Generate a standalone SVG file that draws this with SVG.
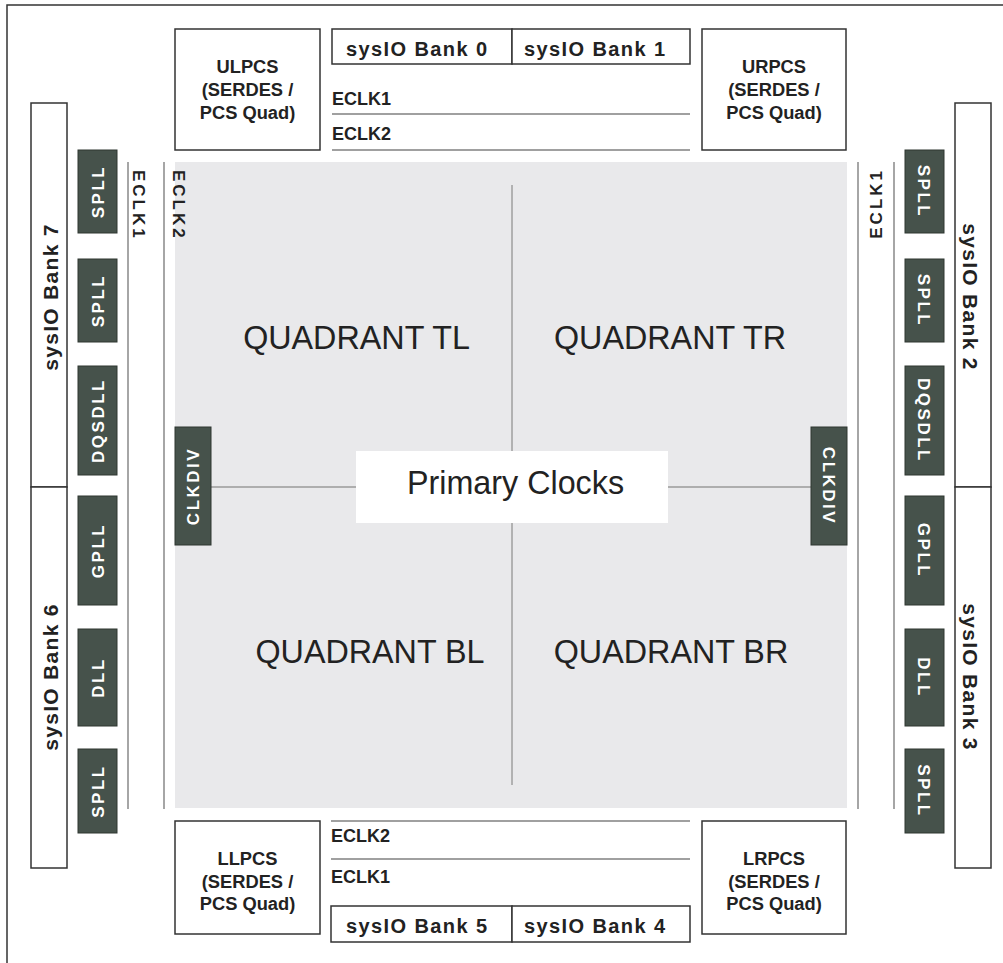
<svg xmlns="http://www.w3.org/2000/svg" width="1003" height="963" viewBox="0 0 1003 963">
<style>
.box{fill:#fff;stroke:#333;stroke-width:1.5}
.dark{fill:#46524b;stroke:#2e3631;stroke-width:1}
.b{font-family:"Liberation Sans",Arial,sans-serif;font-weight:bold;fill:#222}
.pcs{font-size:18.3px;text-anchor:middle}
.bank{font-size:20px;letter-spacing:1.4px}
.sbank{font-size:21px;letter-spacing:1.3px;text-anchor:middle}
.blk{font-size:17px;letter-spacing:2.5px;text-anchor:middle;fill:#fff}
.eclk{font-size:18px}
.veclk{font-size:17px;letter-spacing:3px}
.quad{font-family:"Liberation Sans",Arial,sans-serif;font-size:32.3px;fill:#222;text-anchor:middle}
.wire{stroke:#808080;stroke-width:1.4;fill:none}
.cross{stroke:#9a9a9a;stroke-width:1.4;fill:none}
.frame{stroke:#333;stroke-width:1.5;fill:none}
</style>
<path class="frame" d="M7,963 V5 H1003"/>
<g id="core">
<rect x="175" y="162" width="672" height="646" fill="#e9e9eb"/>
</g>
<g id="connectors">
<line class="wire" x1="332" y1="114" x2="690" y2="114"/>
<line class="wire" x1="332" y1="150" x2="690" y2="150"/>
<line class="wire" x1="331" y1="821" x2="690" y2="821"/>
<line class="wire" x1="331" y1="859" x2="690" y2="859"/>
<line class="wire" x1="128" y1="162" x2="128" y2="809"/>
<line class="wire" x1="164" y1="162" x2="164" y2="809"/>
<line class="wire" x1="858" y1="162" x2="858" y2="809"/>
<line class="wire" x1="894" y1="162" x2="894" y2="809"/>
<line class="cross" x1="512" y1="185" x2="512" y2="451"/>
<line class="cross" x1="512" y1="523" x2="512" y2="785"/>
<line class="cross" x1="211" y1="487" x2="356" y2="487"/>
<line class="cross" x1="668" y1="487" x2="811" y2="487"/>
</g>
<g id="eclk-labels">
<text class="b eclk" x="332" y="105">ECLK1</text>
<text class="b eclk" x="332" y="140">ECLK2</text>
<text class="b eclk" x="331" y="842">ECLK2</text>
<text class="b eclk" x="331" y="883">ECLK1</text>
<text class="b veclk" transform="translate(133,170) rotate(90)">ECLK1</text>
<text class="b veclk" transform="translate(173,170) rotate(90)">ECLK2</text>
<text class="b veclk" text-anchor="end" transform="translate(882,168) rotate(-90)">ECLK1</text>
</g>
<g id="ulpcs">
<rect class="box" x="175" y="29" width="145" height="121"/>
<text class="b pcs" x="247.5" y="73">ULPCS</text>
<text class="b pcs" x="247.5" y="96">(SERDES /</text>
<text class="b pcs" x="247.5" y="118.5">PCS Quad)</text>
</g>
<g id="urpcs">
<rect class="box" x="702" y="29" width="144" height="121"/>
<text class="b pcs" x="774" y="73">URPCS</text>
<text class="b pcs" x="774" y="96">(SERDES /</text>
<text class="b pcs" x="774" y="118.5">PCS Quad)</text>
</g>
<g id="llpcs">
<rect class="box" x="175" y="821" width="145" height="113"/>
<text class="b pcs" x="247.5" y="865">LLPCS</text>
<text class="b pcs" x="247.5" y="887.5">(SERDES /</text>
<text class="b pcs" x="247.5" y="909.5">PCS Quad)</text>
</g>
<g id="lrpcs">
<rect class="box" x="702" y="821" width="144" height="113"/>
<text class="b pcs" x="774" y="865">LRPCS</text>
<text class="b pcs" x="774" y="887.5">(SERDES /</text>
<text class="b pcs" x="774" y="909.5">PCS Quad)</text>
</g>
<g id="bank0">
<rect class="box" x="332" y="29" width="180" height="35"/>
<text class="b bank" x="346" y="55.5">sysIO Bank 0</text>
</g>
<g id="bank1">
<rect class="box" x="512" y="29" width="178" height="35"/>
<text class="b bank" x="524" y="55.5">sysIO Bank 1</text>
</g>
<g id="bank5">
<rect class="box" x="331" y="906" width="181" height="36"/>
<text class="b bank" x="346" y="933">sysIO Bank 5</text>
</g>
<g id="bank4">
<rect class="box" x="512" y="906" width="178" height="36"/>
<text class="b bank" x="524" y="933">sysIO Bank 4</text>
</g>
<g id="bank7">
<rect class="box" x="31" y="103" width="36" height="384"/>
<text class="b sbank" transform="translate(57.5,297) rotate(-90)">sysIO Bank 7</text>
</g>
<g id="bank6">
<rect class="box" x="31" y="487" width="36" height="381"/>
<text class="b sbank" transform="translate(57.5,677) rotate(-90)">sysIO Bank 6</text>
</g>
<g id="bank2">
<rect class="box" x="955" y="103" width="36" height="384"/>
<text class="b sbank" transform="translate(962.5,297) rotate(90)">sysIO Bank 2</text>
</g>
<g id="bank3">
<rect class="box" x="955" y="487" width="36" height="381"/>
<text class="b sbank" transform="translate(962.5,677) rotate(90)">sysIO Bank 3</text>
</g>
<g id="l-spll1"><rect class="dark" x="78" y="150" width="39" height="83"/><text class="b blk" transform="translate(103.6,191.5) rotate(-90)">SPLL</text></g>
<g id="l-spll2"><rect class="dark" x="78" y="259" width="39" height="83"/><text class="b blk" transform="translate(103.6,300.5) rotate(-90)">SPLL</text></g>
<g id="l-dqsdll"><rect class="dark" x="78" y="366" width="39" height="109"/><text class="b blk" transform="translate(103.6,420.5) rotate(-90)">DQSDLL</text></g>
<g id="l-gpll"><rect class="dark" x="78" y="496" width="39" height="109"/><text class="b blk" transform="translate(103.6,550.5) rotate(-90)">GPLL</text></g>
<g id="l-dll"><rect class="dark" x="78" y="629" width="39" height="97"/><text class="b blk" transform="translate(103.6,677.5) rotate(-90)">DLL</text></g>
<g id="l-spll3"><rect class="dark" x="78" y="749" width="39" height="84"/><text class="b blk" transform="translate(103.6,791) rotate(-90)">SPLL</text></g>
<g id="r-spll1"><rect class="dark" x="905" y="150" width="39" height="83"/><text class="b blk" transform="translate(918.4,191.5) rotate(90)">SPLL</text></g>
<g id="r-spll2"><rect class="dark" x="905" y="259" width="39" height="83"/><text class="b blk" transform="translate(918.4,300.5) rotate(90)">SPLL</text></g>
<g id="r-dqsdll"><rect class="dark" x="905" y="366" width="39" height="109"/><text class="b blk" transform="translate(918.4,420.5) rotate(90)">DQSDLL</text></g>
<g id="r-gpll"><rect class="dark" x="905" y="496" width="39" height="109"/><text class="b blk" transform="translate(918.4,550.5) rotate(90)">GPLL</text></g>
<g id="r-dll"><rect class="dark" x="905" y="629" width="39" height="97"/><text class="b blk" transform="translate(918.4,677.5) rotate(90)">DLL</text></g>
<g id="r-spll3"><rect class="dark" x="905" y="749" width="39" height="84"/><text class="b blk" transform="translate(918.4,791) rotate(90)">SPLL</text></g>
<g id="l-clkdiv"><rect class="dark" x="175" y="427" width="36" height="118" stroke="none"/><text class="b blk" transform="translate(199.1,486) rotate(-90)">CLKDIV</text></g>
<g id="r-clkdiv"><rect class="dark" x="811" y="427" width="36" height="118" stroke="none"/><text class="b blk" transform="translate(822.9,486) rotate(90)">CLKDIV</text></g>
<g id="quadrants">
<text class="quad" x="356.5" y="349">QUADRANT TL</text>
<text class="quad" x="670" y="349">QUADRANT TR</text>
<text class="quad" x="370" y="663">QUADRANT BL</text>
<text class="quad" x="671" y="663">QUADRANT BR</text>
</g>
<g id="primary-clocks">
<rect x="356" y="451" width="312" height="72" fill="#fff"/>
<text class="quad" x="515.5" y="494">Primary Clocks</text>
</g>
</svg>
